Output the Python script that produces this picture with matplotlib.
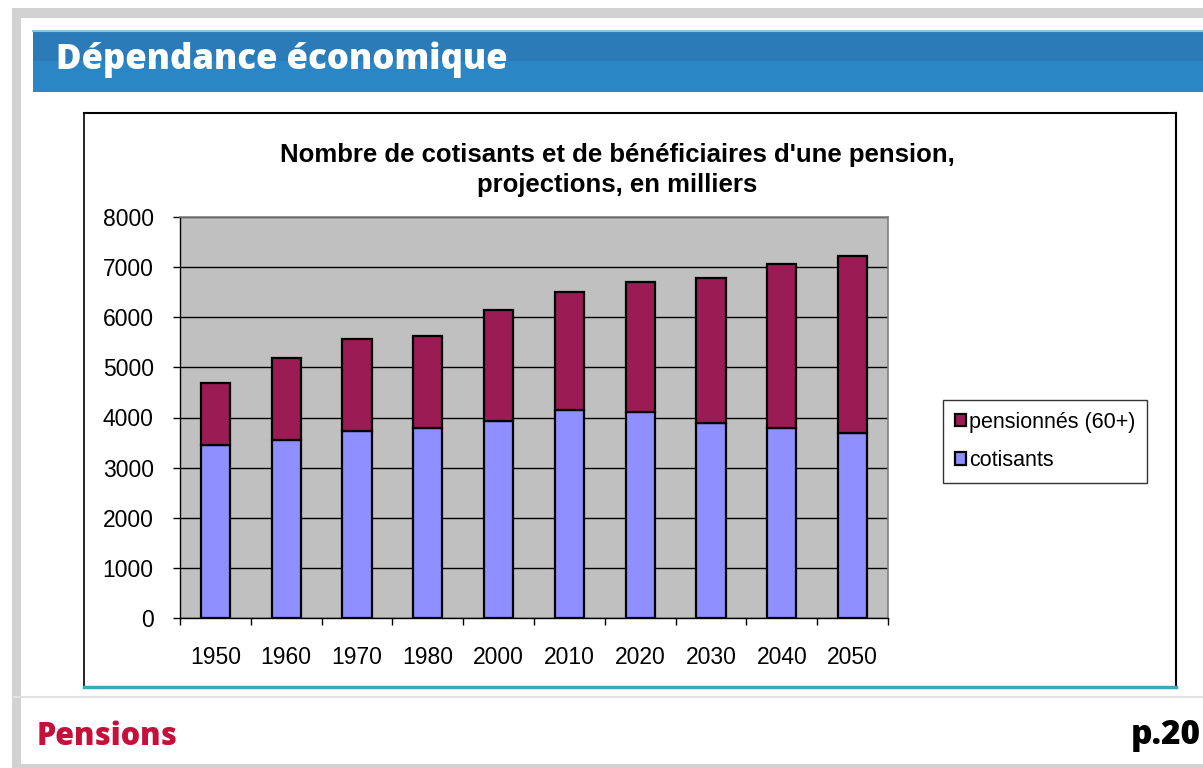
import matplotlib
matplotlib.use("Agg")
import matplotlib.pyplot as plt
from matplotlib.patches import Rectangle
from matplotlib.lines import Line2D
import numpy as np

years = ["1950", "1960", "1970", "1980", "2000", "2010", "2020", "2030", "2040", "2050"]
cotisants = [3450, 3550, 3730, 3800, 3940, 4150, 4105, 3885, 3785, 3700]
totaux = [4685, 5190, 5560, 5630, 6150, 6510, 6700, 6790, 7065, 7230]
pensionnes = [t - c for t, c in zip(totaux, cotisants)]
yticks = [0, 1000, 2000, 3000, 4000, 5000, 6000, 7000, 8000]

W, H = 1203, 768
fig = plt.figure(figsize=(W / 100, H / 100), dpi=100)
fig.patch.set_facecolor("white")

def rect(x0, y0, x1, y1):
    return [x0 / W, 1 - y1 / H, (x1 - x0) / W, (y1 - y0) / H]

bg = fig.add_axes([0, 0, 1, 1])
bg.set_xlim(0, W)
bg.set_ylim(H, 0)
bg.axis("off")

# slide frame
bg.add_patch(Rectangle((0, 0), W, H, facecolor="white", edgecolor="none"))
bg.add_patch(Rectangle((12, 8), W - 12, 10, facecolor="#d2d2d2", edgecolor="none"))
bg.add_patch(Rectangle((12, 8), 9, H - 8, facecolor="#d2d2d2", edgecolor="none"))
bg.add_patch(Rectangle((12, 764), W - 12, 4, facecolor="#d2d2d2", edgecolor="none"))
# header bar
bg.add_patch(Rectangle((33, 30), W - 33, 31, facecolor="#2b7bb9", edgecolor="none"))
bg.add_patch(Rectangle((33, 61), W - 33, 31, facecolor="#2a86c5", edgecolor="none"))
bg.add_line(Line2D([33, W], [31, 31], color="#8fc0e6", lw=1.5))
bg.text(56, 60, "Dépendance économique", color="white", fontsize=25, fontweight="heavy",
        family="Open Sans", va="center", ha="left")
# chart box
bg.add_line(Line2D([84, 1176], [113, 113], color="black", lw=1.5))
bg.add_line(Line2D([84, 84], [113, 688], color="black", lw=1.2))
bg.add_line(Line2D([1176, 1176], [113, 688], color="black", lw=1.5))
bg.add_line(Line2D([84, 1176], [687, 687], color="#3aa9bd", lw=2.5))
bg.add_line(Line2D([14, W], [697, 697], color="#e2e2e2", lw=1.5))
# footer
bg.text(37, 737, "Pensions", color="#c4103a", fontsize=22, fontweight="heavy",
        family="Open Sans", va="center", ha="left")
bg.text(1131, 735, "p.20", color="black", fontsize=24, fontweight="heavy",
        family="Open Sans", va="center", ha="left")
# chart title
bg.text(617, 170, "Nombre de cotisants et de bénéficiaires d'une pension,\nprojections, en milliers",
        color="black", fontsize=18.5, fontweight="bold", family="Liberation Sans",
        va="center", ha="center", linespacing=1.3)

ax = fig.add_axes(rect(180, 217, 888, 618))
ax.set_facecolor("#c0c0c0")
x = np.arange(len(years))
ax.set_axisbelow(True)
ax.yaxis.grid(True, color="black", lw=1)
b1 = ax.bar(x, cotisants, width=0.41, color="#8f8fff", edgecolor="black", lw=1.6, label="cotisants")
b2 = ax.bar(x, pensionnes, bottom=cotisants, width=0.41, color="#9b1b55", edgecolor="black", lw=1.6,
            label="pensionnés (60+)")
ax.set_xlim(-0.5, len(years) - 0.5)
ax.set_ylim(0, 8000)
ax.set_yticks(yticks)
ax.set_yticklabels([str(v) for v in yticks], family="Liberation Sans", fontsize=16.5)
ax.set_xticks(x)
ax.set_xticklabels(years, family="Liberation Sans", fontsize=16.5)
ax.set_xticks(np.arange(len(years) + 1) - 0.5, minor=True)
ax.tick_params(axis="x", which="major", length=0, pad=20)
ax.tick_params(axis="x", which="minor", length=5, width=1, direction="out")
ax.tick_params(axis="y", length=5, width=1, direction="out", pad=14)
for s in ["top", "right"]:
    ax.spines[s].set_color("#808080")
    ax.spines[s].set_linewidth(1.2)
ax.spines["left"].set_color("black")
ax.spines["bottom"].set_color("black")
ax.spines["left"].set_linewidth(1.0)
ax.spines["bottom"].set_linewidth(1.0)

leg = fig.legend(handles=[b2, b1], labels=["pensionnés (60+)", "cotisants"],
                 loc="upper left", bbox_to_anchor=(943 / W, 1 - 400 / H),
                 prop={"family": "Liberation Sans", "size": 15.5},
                 frameon=True, fancybox=False, edgecolor="black", handlelength=0.5,
                 handleheight=0.5, handletextpad=0.15, borderpad=0.55, labelspacing=0.8,
                 borderaxespad=0)
leg.get_frame().set_linewidth(1.0)

fig.savefig("out.png", dpi=100, facecolor="white")
